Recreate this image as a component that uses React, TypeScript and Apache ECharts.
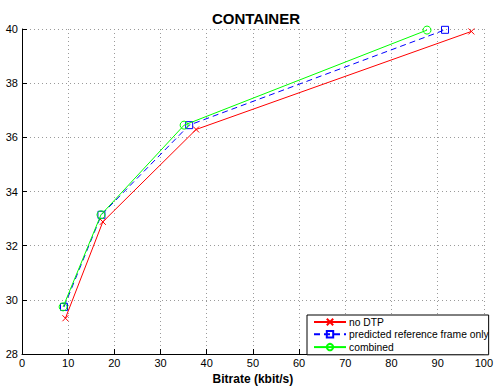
import React, { useEffect, useRef } from "react";
import * as echarts from "echarts";

const xTicks = [0, 10, 20, 30, 40, 50, 60, 70, 80, 90, 100];
const noDtp: [number, number][] = [
  [9.4, 29.32],
  [17.5, 32.88],
  [37.7, 36.29],
  [97.3, 39.91],
];
const predictedRef: [number, number][] = [
  [9.1, 29.74],
  [17.2, 33.14],
  [36.2, 36.45],
  [91.6, 39.97],
];
const combined: [number, number][] = [
  [8.9, 29.74],
  [17.1, 33.14],
  [35.1, 36.45],
  [87.7, 39.96],
];
const seriesNames = ["no DTP", "predicted reference frame only", "combined"];

const FONT = "'Liberation Sans', Arial, Helvetica, sans-serif";

export default function App() {
  const ref = useRef<HTMLDivElement>(null);
  useEffect(() => {
    if (!ref.current) return;
    const chart = echarts.init(ref.current, undefined, { renderer: "svg" });
    const dotted = { color: "#9a9a9a", width: 1, type: [1, 3] as any };
    chart.setOption({
      animation: false,
      backgroundColor: "#ffffff",
      title: {
        text: "CONTAINER",
        left: 251,
        top: 6,
        textAlign: "center",
        textStyle: { fontFamily: FONT, fontSize: 15, fontWeight: "bold", color: "#000" },
      },
      grid: { left: 22, right: 5, top: 29, bottom: 29, containLabel: false },
      legend: {
        orient: "vertical",
        left: 307,
        top: 315,
        itemWidth: 32,
        itemHeight: 8,
        itemGap: 1.5,
        padding: [2, 0, 2, 6],
        backgroundColor: "#ffffff",
        borderColor: "#000000",
        borderWidth: 1,
        borderRadius: 0,
        textStyle: { fontFamily: FONT, fontSize: 10.3, color: "#000", padding: [0, 0, 0, -2] },
        data: seriesNames,
      },
      xAxis: {
        type: "value",
        min: xTicks[0],
        max: xTicks[xTicks.length - 1],
        interval: 10,
        name: "Bitrate (kbit/s)",
        nameLocation: "middle",
        nameGap: 19,
        nameTextStyle: { fontFamily: FONT, fontSize: 12, fontWeight: "bold", color: "#000" },
        axisLine: { show: true, lineStyle: { color: "#000", width: 1 } },
        axisTick: { show: true, inside: true, length: 5, lineStyle: { color: "#000" } },
        axisLabel: { fontFamily: FONT, fontSize: 11, color: "#000", margin: 3 },
        splitLine: { show: true, lineStyle: dotted },
      },
      yAxis: {
        type: "value",
        min: 28,
        max: 40,
        interval: 2,
        axisLine: { show: true, lineStyle: { color: "#000", width: 1 } },
        axisTick: { show: true, inside: true, length: 5, lineStyle: { color: "#000" } },
        axisLabel: { fontFamily: FONT, fontSize: 11, color: "#000", margin: 4 },
        splitLine: { show: true, lineStyle: dotted },
      },
      series: [
        {
          name: seriesNames[0],
          type: "line",
          data: noDtp,
          symbol: "path://M0,0L10,10M10,0L0,10",
          symbolSize: 6,
          lineStyle: { color: "#ff0000", width: 1 },
          itemStyle: { color: "#ff0000", borderColor: "#ff0000", borderWidth: 1 },
          z: 2,
        },
        {
          name: seriesNames[1],
          type: "line",
          data: predictedRef,
          symbol: "rect",
          symbolSize: 7,
          lineStyle: { color: "#0000ff", width: 1, type: [6, 4] },
          itemStyle: { color: "none", borderColor: "#0000ff", borderWidth: 1 },
          z: 3,
        },
        {
          name: seriesNames[2],
          type: "line",
          data: combined,
          symbol: "circle",
          symbolSize: 8,
          lineStyle: { color: "#00ff00", width: 1 },
          itemStyle: { color: "none", borderColor: "#00ff00", borderWidth: 1 },
          z: 4,
        },
      ],
    });
    return () => chart.dispose();
  }, []);
  return (
    <div
      ref={ref}
      style={{ position: "fixed", left: 0, top: 0, width: 496, height: 390, background: "#fff" }}
    />
  );
}
